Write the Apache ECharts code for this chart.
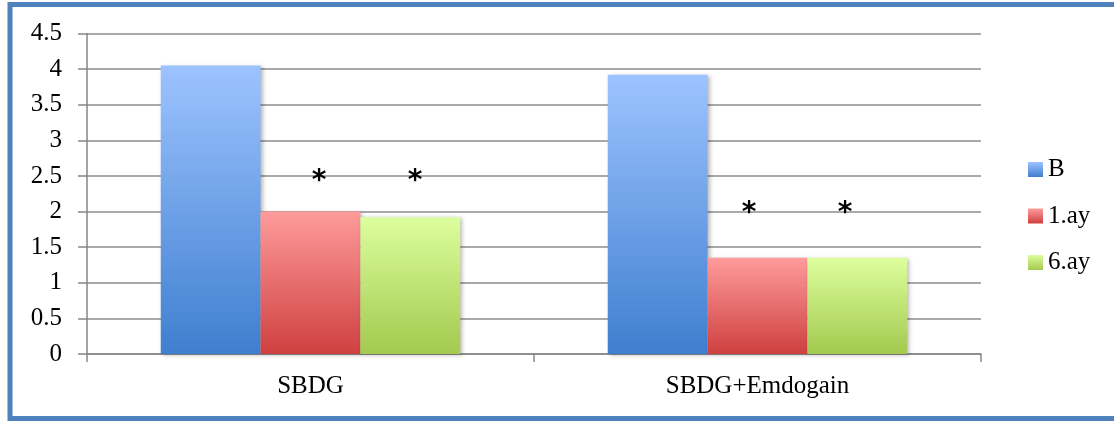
<!DOCTYPE html>
<html>
<head>
<meta charset="utf-8">
<script src="https://cdn.jsdelivr.net/npm/echarts@6/dist/echarts.min.js"></script>
<style>
  html, body { margin: 0; padding: 0; background: #fff; }
  #chart { width: 1114px; height: 423px; }
</style>
</head>
<body>
<div id="chart"></div>
<script>
// Groups and measured means
const categories = ['SBDG', 'SBDG+Emdogain'];
const seriesNames = ['B', '1.ay', '6.ay'];
const valuesB = [4.05, 3.92];
const values1ay = [2.0, 1.35];
const values6ay = [1.92, 1.35];
// Significance markers (*) drawn above the follow-up bars
const starLevel1ay = [2.5, 2.05];
const starLevel6ay = [2.5, 2.05];

const FONT = 'Liberation Serif';
const FS = 25;

function vgrad(top, bottom) {
  return new echarts.graphic.LinearGradient(0, 0, 0, 1, [
    { offset: 0, color: top },
    { offset: 1, color: bottom }
  ]);
}

const barStyle = (top, bottom) => ({
  color: vgrad(top, bottom),
  shadowColor: 'rgba(0,0,0,0.28)',
  shadowBlur: 4,
  shadowOffsetX: 2,
  shadowOffsetY: 1
});

const chart = echarts.init(document.getElementById('chart'), null, { renderer: 'canvas' });

// Asterisk markers: placed at (category, level) on the chart scales,
// nudged sideways toward the bar they belong to.
const starSeries = (name, levels, dx) => ({
  name: name,
  type: 'custom',
  silent: true,
  z: 5,
  data: levels.map((v, i) => [i, v]),
  renderItem: (params, api) => {
    const p = api.coord([api.value(0), api.value(1)]);
    return {
      type: 'text',
      x: p[0] + dx[params.dataIndex],
      y: p[1] + 6,
      style: {
        text: '*',
        font: 'bold 28px "DejaVu Sans"',
        fill: '#000',
        align: 'center',
        verticalAlign: 'middle'
      }
    };
  }
});

chart.setOption({
  animation: false,
  backgroundColor: '#ffffff',
  textStyle: { fontFamily: FONT },
  graphic: [{
    type: 'rect',
    shape: { x: 10, y: 4.5, width: 1112, height: 414 },
    style: { fill: 'none', stroke: '#4f81bd', lineWidth: 5 },
    z: 10
  }],
  grid: { left: 87, right: 133, top: 33.5, bottom: 69 },
  legend: {
    data: seriesNames,
    orient: 'vertical',
    left: 1023,
    top: 152,
    itemWidth: 15,
    itemHeight: 15,
    itemGap: 21.5,
    icon: 'rect',
    textStyle: { fontFamily: FONT, fontSize: FS, color: '#000' }
  },
  xAxis: {
    type: 'category',
    data: categories,
    axisLine: { lineStyle: { color: '#868686', width: 1.5 } },
    axisTick: { show: true, length: 8, lineStyle: { color: '#868686', width: 1.5 } },
    axisLabel: { fontFamily: FONT, fontSize: FS, color: '#000', margin: 20 }
  },
  yAxis: {
    type: 'value',
    min: 0,
    max: 4.5,
    interval: 0.5,
    axisLine: { show: true, lineStyle: { color: '#868686', width: 1.5 } },
    axisTick: { show: true, length: 9, lineStyle: { color: '#868686', width: 1.5 } },
    splitLine: { lineStyle: { color: '#8c8c8c', width: 1.5 } },
    axisLabel: { fontFamily: FONT, fontSize: FS, color: '#000', margin: 25 }
  },
  series: [
    {
      name: 'B', type: 'bar', data: valuesB,
      barGap: '0%', barCategoryGap: '33%',
      itemStyle: barStyle('#9dc3ff', '#3f7fcf')
    },
    {
      name: '1.ay', type: 'bar', data: values1ay,
      itemStyle: barStyle('#ff9b9b', '#cf4040')
    },
    {
      name: '6.ay', type: 'bar', data: values6ay,
      itemStyle: barStyle('#ddfe9d', '#a3c94f')
    },
    starSeries('* 1.ay', starLevel1ay, [8.5, -8.5]),
    starSeries('* 6.ay', starLevel6ay, [104.5, 87.5])
  ]
});
</script>
</body>
</html>
